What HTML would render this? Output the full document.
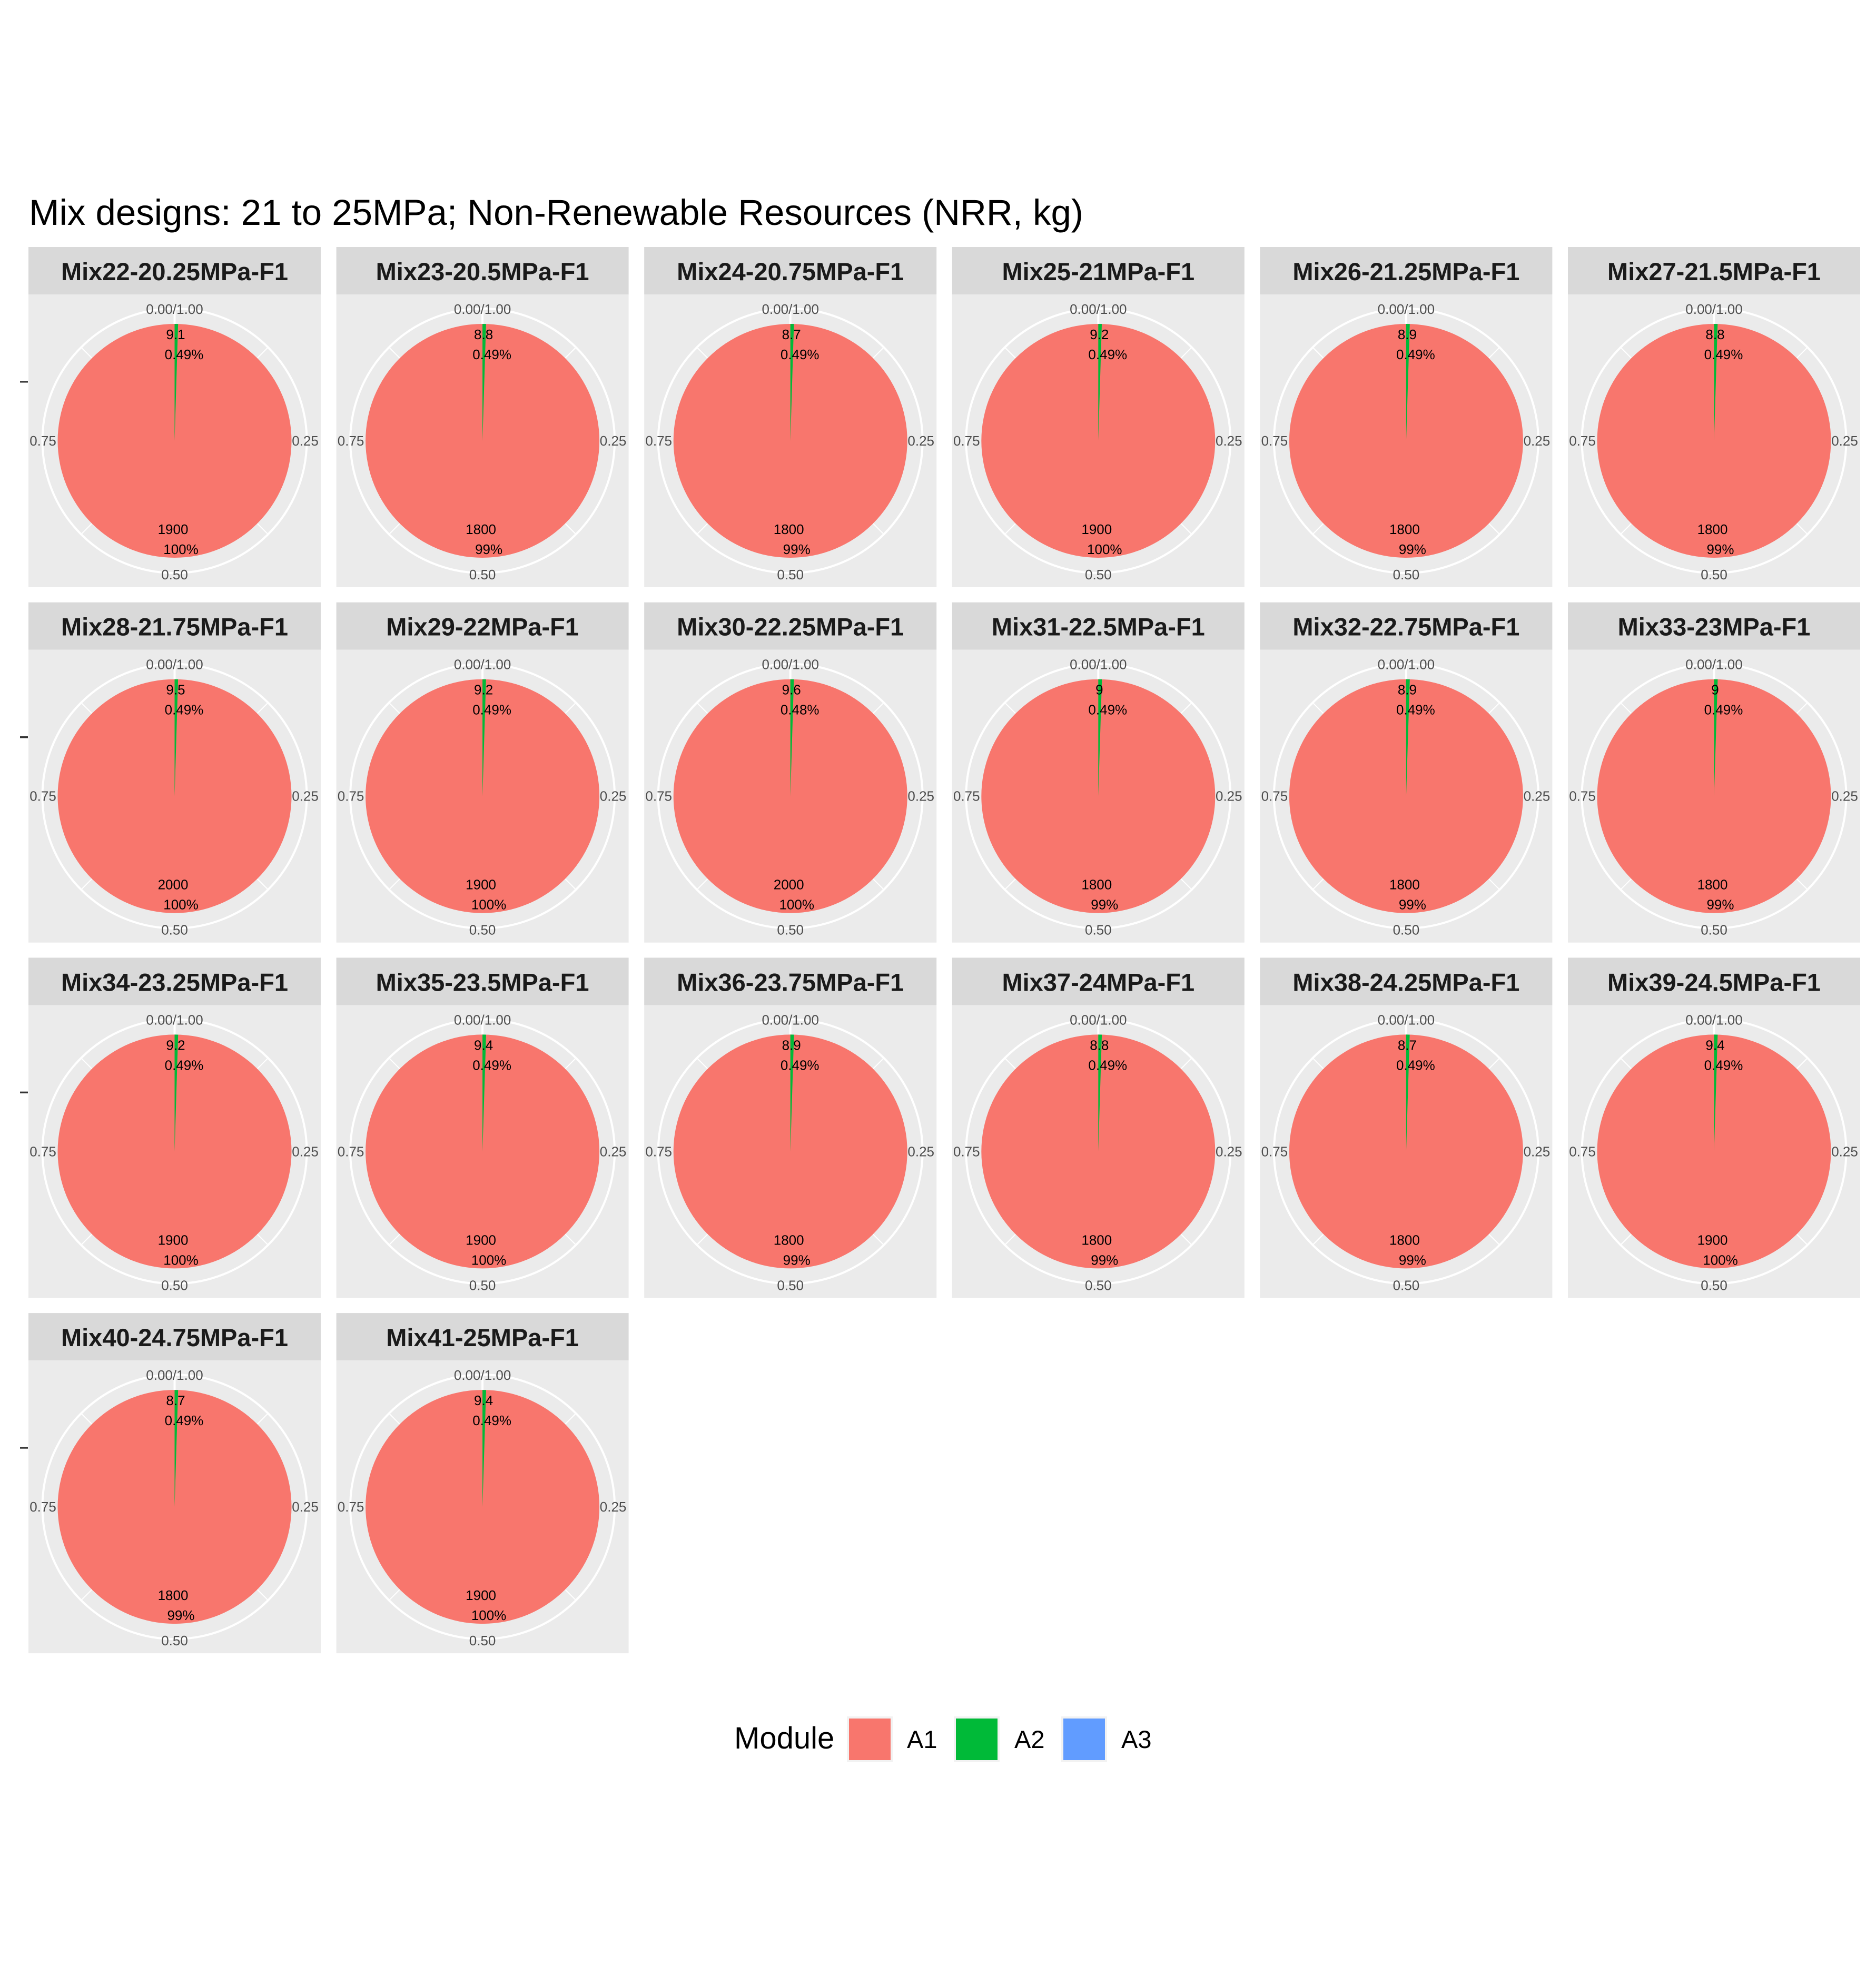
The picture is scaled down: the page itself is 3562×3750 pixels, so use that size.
<!DOCTYPE html>
<html><head><meta charset="utf-8">
<style>
html,body{margin:0;padding:0;background:#fff;}
svg{display:block;font-family:"Liberation Sans",Arial,sans-serif;}
</style></head>
<body>
<svg id="chart" width="3562" height="3750" viewBox="0 0 3562 3750" xmlns="http://www.w3.org/2000/svg">
<rect x="0" y="0" width="3562" height="3750" fill="#fff"/>
<text x="55" y="427" font-size="69" fill="#000">Mix designs: 21 to 25MPa; Non-Renewable Resources (NRR, kg)</text>
<g id="panels"></g>
<g id="legend">
  <text x="1394" y="3320" font-size="58" fill="#000">Module</text>
  <rect x="1610" y="3261" width="83" height="83" fill="#F8766D" stroke="#f2f2f2" stroke-width="4"/>
  <text x="1722" y="3319" font-size="47" fill="#000">A1</text>
  <rect x="1813" y="3261" width="83" height="83" fill="#00BA38" stroke="#f2f2f2" stroke-width="4"/>
  <text x="1926" y="3319" font-size="47" fill="#000">A2</text>
  <rect x="2017" y="3261" width="83" height="83" fill="#619CFF" stroke="#f2f2f2" stroke-width="4"/>
  <text x="2129" y="3319" font-size="47" fill="#000">A3</text>
</g>
</svg>
<script>
const mixNames = ["Mix22-20.25MPa-F1","Mix23-20.5MPa-F1","Mix24-20.75MPa-F1","Mix25-21MPa-F1","Mix26-21.25MPa-F1","Mix27-21.5MPa-F1","Mix28-21.75MPa-F1","Mix29-22MPa-F1","Mix30-22.25MPa-F1","Mix31-22.5MPa-F1","Mix32-22.75MPa-F1","Mix33-23MPa-F1","Mix34-23.25MPa-F1","Mix35-23.5MPa-F1","Mix36-23.75MPa-F1","Mix37-24MPa-F1","Mix38-24.25MPa-F1","Mix39-24.5MPa-F1","Mix40-24.75MPa-F1","Mix41-25MPa-F1"];
const a1Values = [1900,1800,1800,1900,1800,1800,2000,1900,2000,1800,1800,1800,1900,1900,1800,1800,1800,1900,1800,1900];
const a2Values = [9.1,8.8,8.7,9.2,8.9,8.8,9.5,9.2,9.6,9,8.9,9,9.2,9.4,8.9,8.8,8.7,9.4,8.7,9.4];
const a1PctLabels = ["100%","99%","99%","100%","99%","99%","100%","100%","100%","99%","99%","99%","100%","100%","99%","99%","99%","100%","99%","100%"];
const a2PctLabels = ["0.49%","0.49%","0.49%","0.49%","0.49%","0.49%","0.49%","0.49%","0.48%","0.49%","0.49%","0.49%","0.49%","0.49%","0.49%","0.49%","0.49%","0.49%","0.49%","0.49%"];
const thetaTicks = ["0.00/1.00","0.25","0.50","0.75"];

const NS="http://www.w3.org/2000/svg";
const g=document.getElementById('panels');
function mk(tag,attrs,parent){const e=document.createElementNS(NS,tag);for(const k in attrs)e.setAttribute(k,attrs[k]);parent.appendChild(e);return e;}
const R=222, RING=251;
function angleToXY(cx,cy,r,frac){const a=frac*2*Math.PI;return [cx+r*Math.sin(a),cy-r*Math.cos(a)];}
mixNames.forEach((name,i)=>{
  const c=i%6, r=Math.floor(i/6);
  const left=54+c*584.6, top=469+r*674.7, w=555;
  const cx=left+w/2, cy=top+90+278;
  const pg=mk('g',{},g);
  
  
  const strip=mk('rect',{x:left,y:top,width:w,height:90,fill:'#d9d9d9'},pg);
  
  
  const st=mk('text',{x:cx,y:top+63,'text-anchor':'middle','font-size':47,'font-weight':'bold',fill:'#1a1a1a'},pg);
  st.textContent=name;
  
  
  const bg=mk('rect',{x:left,y:top+90,width:w,height:556,fill:'#ebebeb'},pg);
  
  
  const tk=mk('line',{x1:38,x2:53,y1:top+256,y2:top+256,stroke:'#333',"stroke-width":3},pg);
  
  
  [0.125,0.375,0.625,0.875].forEach(f=>{
    const p1=angleToXY(cx,cy,R,f),p2=angleToXY(cx,cy,RING,f);
    const l=mk('line',{x1:p1[0],y1:p1[1],x2:p2[0],y2:p2[1],stroke:'#fff','stroke-width':2},pg);
    
    
  });
  const tl=mk('line',{x1:cx,y1:cy-RING,x2:cx,y2:cy-R,stroke:'#fff','stroke-width':4},pg);
  
  
  const ring=mk('circle',{cx:cx,cy:cy,r:RING,fill:'none',stroke:'#fff','stroke-width':4},pg);
  
  
  const total=a1Values[i]+a2Values[i];
  const f2=a2Values[i]/total;
  const pie=mk('circle',{cx:cx,cy:cy,r:R,fill:'#F8766D'},pg);
  
  
  const p0=angleToXY(cx,cy,R,0),p1=angleToXY(cx,cy,R,f2);
  const wedge=mk('path',{d:`M${cx},${cy} L${p0[0]},${p0[1]} A${R},${R} 0 0 1 ${p1[0]},${p1[1]} Z`,fill:'#00BA38'},pg);
  
  
  const tpos=[[cx,cy-RING+10,'middle'],[cx+RING-3,cy+9,'middle'],[cx,cy+RING+12,'middle'],[cx-RING+1,cy+9,'middle']];
  thetaTicks.forEach((t,k)=>{
    const e=mk('text',{x:tpos[k][0],y:tpos[k][1],'text-anchor':tpos[k][2],'font-size':26,fill:'#4d4d4d'},pg);
    e.textContent=t;
    
    
  });
  const labs=[[a2Values[i],cx+2,cy-193],[a2PctLabels[i],cx+18,cy-155],[a1Values[i],cx-3,cy+177],[a1PctLabels[i],cx+12,cy+215]];
  labs.forEach((L,k)=>{
    const e=mk('text',{x:L[1],y:L[2],'text-anchor':'middle','font-size':26,fill:'#000'},pg);
    e.textContent=L[0];
    
    
  });
});
</script>
</body></html>
